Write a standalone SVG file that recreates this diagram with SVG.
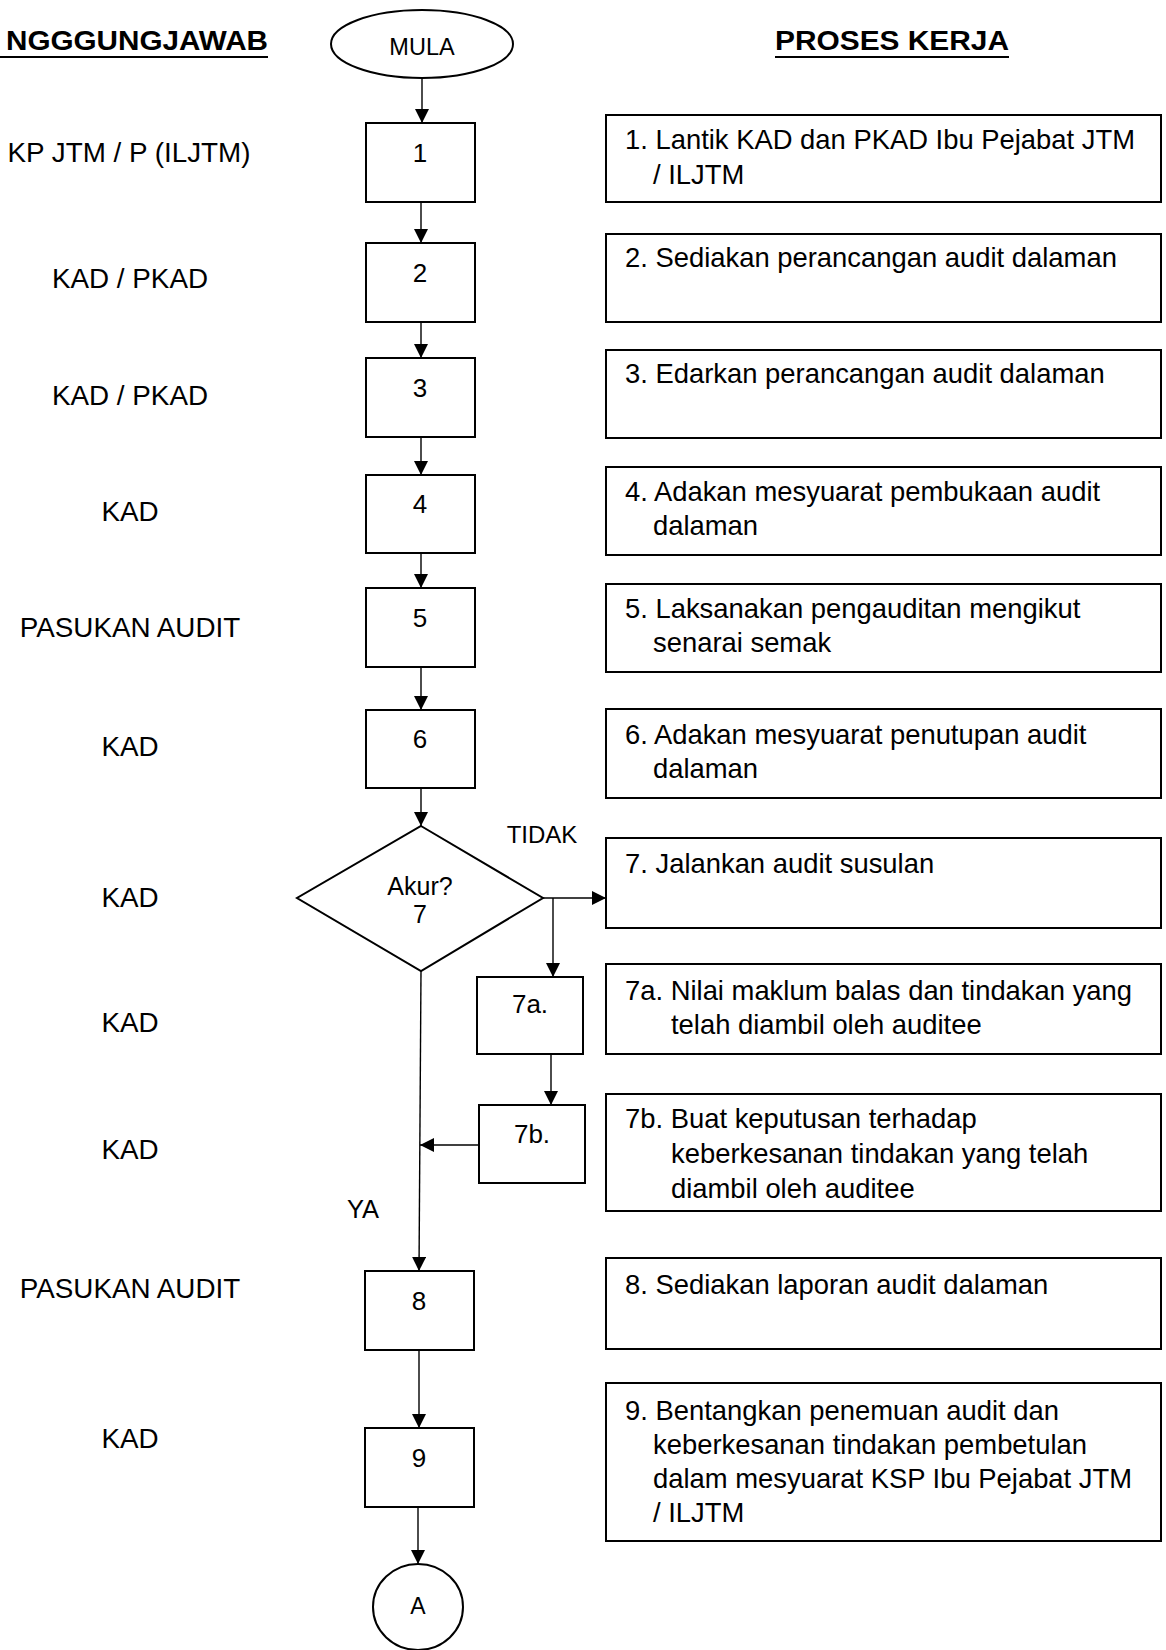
<svg xmlns="http://www.w3.org/2000/svg" width="1166" height="1650" viewBox="0 0 1166 1650">
<defs>
<marker id="ah" markerUnits="userSpaceOnUse" markerWidth="14" markerHeight="14" viewBox="0 0 14 14" refX="14" refY="7" orient="auto">
<path d="M0,0 L14,7 L0,14 Z" fill="#000"/>
</marker>
<style>
text{font-family:"Liberation Sans",Arial,sans-serif;fill:#000}
.title{font-size:27px;font-weight:bold}
.lbl{font-size:27.8px;text-anchor:middle}
.num{font-size:26px;text-anchor:middle}
.txt{font-size:27.4px}
.box{fill:#fff;stroke:#000;stroke-width:2}
.conn{fill:none;stroke:#000;stroke-width:1.4;marker-end:url(#ah)}
</style>
</defs>
<rect width="1166" height="1650" fill="#fff"/>

<g id="headers">
<text class="title" x="6" y="50" textLength="262" lengthAdjust="spacingAndGlyphs">NGGGUNGJAWAB</text>
<line x1="0" y1="57" x2="268" y2="57" stroke="#000" stroke-width="2.2"/>
<text class="title" x="775" y="50" textLength="234" lengthAdjust="spacingAndGlyphs">PROSES KERJA</text>
<line x1="775" y1="57" x2="1009" y2="57" stroke="#000" stroke-width="2.2"/>
</g>

<g id="responsibility">
<text class="lbl" x="129" y="162">KP JTM / P (ILJTM)</text>
<text class="lbl" x="130" y="288">KAD / PKAD</text>
<text class="lbl" x="130" y="405">KAD / PKAD</text>
<text class="lbl" x="130" y="521">KAD</text>
<text class="lbl" x="130" y="637">PASUKAN AUDIT</text>
<text class="lbl" x="130" y="756">KAD</text>
<text class="lbl" x="130" y="907">KAD</text>
<text class="lbl" x="130" y="1032">KAD</text>
<text class="lbl" x="130" y="1159">KAD</text>
<text class="lbl" x="130" y="1298">PASUKAN AUDIT</text>
<text class="lbl" x="130" y="1448">KAD</text>
</g>

<g id="connectors">
<line class="conn" x1="422" y1="78" x2="422" y2="123"/>
<line class="conn" x1="421" y1="202" x2="421" y2="243"/>
<line class="conn" x1="421" y1="322" x2="421" y2="358"/>
<line class="conn" x1="421" y1="437" x2="421" y2="475"/>
<line class="conn" x1="421" y1="553" x2="421" y2="588"/>
<line class="conn" x1="421" y1="667" x2="421" y2="710"/>
<line class="conn" x1="421" y1="788" x2="421" y2="826"/>
<line class="conn" x1="543" y1="898" x2="606" y2="898"/>
<line class="conn" x1="553" y1="898" x2="553" y2="977"/>
<line class="conn" x1="551" y1="1054" x2="551" y2="1105"/>
<line class="conn" x1="479" y1="1145" x2="420" y2="1145"/>
<line class="conn" x1="421" y1="971" x2="419" y2="1271"/>
<line class="conn" x1="419" y1="1350" x2="419" y2="1428"/>
<line class="conn" x1="418" y1="1507" x2="418" y2="1564"/>
<text class="lbl" x="542" y="843" style="font-size:24px">TIDAK</text>
<text class="lbl" x="363" y="1218" style="font-size:25.5px">YA</text>
</g>

<g id="mula">
<ellipse class="box" cx="422" cy="44" rx="91" ry="34"/>
<text class="num" x="422" y="55" style="font-size:23.5px">MULA</text>
</g>
<g id="n1"><rect class="box" x="366" y="123" width="109" height="79"/><text class="num" x="420" y="162">1</text></g>
<g id="n2"><rect class="box" x="366" y="243" width="109" height="79"/><text class="num" x="420" y="282">2</text></g>
<g id="n3"><rect class="box" x="366" y="358" width="109" height="79"/><text class="num" x="420" y="397">3</text></g>
<g id="n4"><rect class="box" x="366" y="475" width="109" height="78"/><text class="num" x="420" y="513">4</text></g>
<g id="n5"><rect class="box" x="366" y="588" width="109" height="79"/><text class="num" x="420" y="627">5</text></g>
<g id="n6"><rect class="box" x="366" y="710" width="109" height="78"/><text class="num" x="420" y="748">6</text></g>
<g id="n7">
<polygon class="box" points="421,826 543,898 421,971 297,898"/>
<text class="num" x="420" y="895" style="font-size:25px">Akur?</text>
<text class="num" x="420" y="923" style="font-size:25px">7</text>
</g>
<g id="n7a"><rect class="box" x="477" y="977" width="106" height="77"/><text class="num" x="530" y="1013">7a.</text></g>
<g id="n7b"><rect class="box" x="479" y="1105" width="106" height="78"/><text class="num" x="532" y="1143">7b.</text></g>
<g id="n8"><rect class="box" x="365" y="1271" width="109" height="79"/><text class="num" x="419" y="1310">8</text></g>
<g id="n9"><rect class="box" x="365" y="1428" width="109" height="79"/><text class="num" x="419" y="1467">9</text></g>
<g id="nA"><ellipse class="box" cx="418" cy="1607" rx="45" ry="43"/><text class="num" x="418" y="1614" style="font-size:23px">A</text></g>

<g id="p1"><rect class="box" x="606" y="115" width="555" height="87"/>
<text class="txt" x="625" y="149">1. Lantik KAD dan PKAD Ibu Pejabat JTM</text>
<text class="txt" x="653" y="184">/ ILJTM</text></g>
<g id="p2"><rect class="box" x="606" y="234" width="555" height="88"/>
<text class="txt" x="625" y="267">2. Sediakan perancangan audit dalaman</text></g>
<g id="p3"><rect class="box" x="606" y="350" width="555" height="88"/>
<text class="txt" x="625" y="383">3. Edarkan perancangan audit dalaman</text></g>
<g id="p4"><rect class="box" x="606" y="467" width="555" height="88"/>
<text class="txt" x="625" y="501">4. Adakan mesyuarat pembukaan audit</text>
<text class="txt" x="653" y="535">dalaman</text></g>
<g id="p5"><rect class="box" x="606" y="584" width="555" height="88"/>
<text class="txt" x="625" y="618">5. Laksanakan pengauditan mengikut</text>
<text class="txt" x="653" y="652">senarai semak</text></g>
<g id="p6"><rect class="box" x="606" y="709" width="555" height="89"/>
<text class="txt" x="625" y="744">6. Adakan mesyuarat penutupan audit</text>
<text class="txt" x="653" y="778">dalaman</text></g>
<g id="p7"><rect class="box" x="606" y="838" width="555" height="90"/>
<text class="txt" x="625" y="873">7. Jalankan audit susulan</text></g>
<g id="p7a"><rect class="box" x="606" y="964" width="555" height="90"/>
<text class="txt" x="625" y="1000">7a. Nilai maklum balas dan tindakan yang</text>
<text class="txt" x="671" y="1034">telah diambil oleh auditee</text></g>
<g id="p7b"><rect class="box" x="606" y="1094" width="555" height="117"/>
<text class="txt" x="625" y="1128">7b. Buat keputusan terhadap</text>
<text class="txt" x="671" y="1163">keberkesanan tindakan yang telah</text>
<text class="txt" x="671" y="1198">diambil oleh auditee</text></g>
<g id="p8"><rect class="box" x="606" y="1258" width="555" height="91"/>
<text class="txt" x="625" y="1294">8. Sediakan laporan audit dalaman</text></g>
<g id="p9"><rect class="box" x="606" y="1383" width="555" height="158"/>
<text class="txt" x="625" y="1420">9. Bentangkan penemuan audit dan</text>
<text class="txt" x="653" y="1454">keberkesanan tindakan pembetulan</text>
<text class="txt" x="653" y="1488">dalam mesyuarat KSP Ibu Pejabat JTM</text>
<text class="txt" x="653" y="1522">/ ILJTM</text></g>
</svg>
